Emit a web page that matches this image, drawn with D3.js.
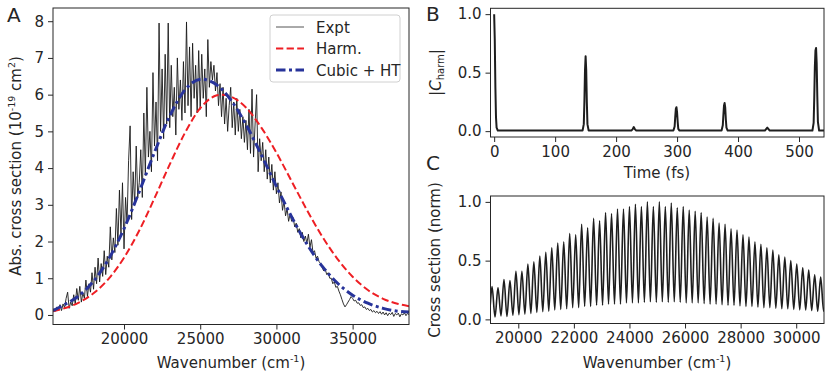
<!DOCTYPE html>
<html>
<head>
<meta charset="utf-8">
<script src="https://cdn.jsdelivr.net/npm/d3@7"></script>
<style>
body { margin: 0; background: #fff; }
svg text { font-family: "DejaVu Sans", sans-serif; fill: #262626; }
</style>
</head>
<body>
<div id="my_dataviz"></div>
<script>
var exptWave = [
  15400,15500,15600,15700,15800,15900,
  16000,16100,16200,16300,16400,16500,16600,16700,16800,16900,
  17000,17100,17200,17300,17400,17500,17600,17700,17800,17900,18000,18100,18200,18300,18400,18500,18600,18700,18800,18900,
  19000,19100,19200,19300,19400,19500,19600,19700,19800,19900,20000,20100,20200,20300,20400,20500,20600,20700,20800,20900,
  21000,21100,21200,21300,21400,21500,21600,21700,21800,21900,22000,22100,22200,22300,22400,22500,22600,22700,22800,22900,
  23000,23100,23200,23300,23400,23500,23600,23700,23800,23900,24000,24100,24200,24300,24400,24500,24600,24700,24800,24900,
  25000,25100,25200,25300,25400,25500,25600,25700,25800,25900,26000,26100,26200,26300,26400,26500,26600,26700,26800,26900,
  27000,27100,27200,27300,27400,27500,27600,27700,27800,27900,28000,28100,28200,28300,28400,28500,28600,28700,28800,28900,
  29000,29100,29200,29300,29400,29500,29600,29700,29800,29900,30000,30100,30200,30300,30400,30500,30600,30700,30800,30900,
  31000,31100,31200,31300,31400,31500,31600,31700,31800,31900,32000,32100,32200,32300,32400,32500,32600,32700,32800,32900,
  33000,33100,33200,33300,33400,33500,33600,33700,33800,33900,34000,34100,34200,34300,34400,34500,34600,34700,34800,34900,
  35000,35100,35200,35300,35400,35500,35600,35700,35800,35900,36000,36100,36200,36300,36400,36500,36600,36700,36800,36900,
  37000,37100,37200,37300,37400,37500,37600,37700,37800,37900,38000,38100,38200,38300,38400,38500,38600,38700];
var exptVal = [
  0.18,0.10,0.22,0.15,0.28,0.12,
  0.30,0.20,0.45,0.62,0.18,0.35,0.25,0.55,0.30,0.72,
  0.40,0.78,0.35,0.60,0.45,0.95,0.50,0.85,0.62,1.15,0.70,1.30,0.85,1.55,0.90,1.40,1.05,1.75,1.10,1.60,
  1.30,2.40,1.50,2.10,1.70,2.90,1.90,3.40,2.20,3.60,1.80,3.20,2.50,4.20,5.15,2.60,3.90,3.00,4.60,3.20,
  3.60,4.50,3.20,5.50,3.80,6.20,4.30,5.00,3.90,6.60,4.60,5.80,4.20,7.95,5.00,6.70,4.80,7.10,5.20,7.95,
  5.10,6.80,5.40,6.20,4.90,7.00,5.60,6.40,5.30,6.90,5.50,7.98,5.70,7.30,5.40,7.40,5.90,6.80,5.50,7.20,
  5.60,7.10,5.90,6.70,5.40,7.50,6.20,6.90,6.40,6.80,6.10,6.60,5.70,6.30,5.40,6.20,5.20,5.90,5.00,5.70,
  6.20,5.10,5.80,4.90,5.90,5.00,5.60,4.80,5.40,4.70,5.30,4.50,5.60,4.40,6.15,4.30,5.20,6.00,3.90,4.80,
  4.20,4.70,3.90,4.50,3.70,4.30,3.60,4.10,3.40,3.90,3.30,3.60,3.05,3.35,2.85,3.10,2.70,2.90,2.55,2.75,
  2.55,2.65,2.40,2.50,2.25,2.35,2.10,2.25,2.00,2.15,1.95,2.20,1.85,2.05,1.70,1.75,1.55,1.60,1.45,1.40,
  1.30,1.20,1.25,1.10,1.15,1.00,1.00,0.85,0.90,0.75,0.78,0.65,0.55,0.42,0.30,0.22,0.28,0.35,0.42,0.50,
  0.45,0.38,0.40,0.32,0.33,0.26,0.28,0.20,0.22,0.15,0.18,0.12,0.15,0.08,0.12,0.06,0.10,0.04,0.09,0.02,
  0.08,0.00,0.06,-0.02,0.05,0.01,0.07,-0.04,0.04,0.00,0.05,-0.05,0.03,0.00,0.06,-0.02,0.04,0.01];

// harmonic model (red dashed)
var harmWave = [15340,16000,17000,18000,19000,20000,21000,22000,23000,24000,25000,26000,26400,27000,28000,29000,30000,31000,32000,33000,34000,35000,36000,37000,38000,38700];
var harmVal  = [0.10,0.17,0.33,0.59,0.99,1.56,2.30,3.18,4.10,4.96,5.63,5.97,6.00,5.95,5.65,5.11,4.42,3.64,2.86,2.14,1.53,1.04,0.68,0.44,0.30,0.24];

// cubic + HT model (blue dash-dot)
var cubicWave = [15340,16000,17000,18000,19000,20000,21000,22000,23000,24000,25100,26000,27000,28000,29000,30000,31000,32000,33000,34000,35000,36000,37000,38000,38700];
var cubicVal  = [0.12,0.26,0.51,0.92,1.53,2.35,3.36,4.43,5.42,6.13,6.42,6.29,5.86,5.19,4.37,3.50,2.67,1.93,1.33,0.87,0.54,0.32,0.18,0.10,0.08];

var aXTicks = [20000, 25000, 30000, 35000];
var aYTicks = [0, 1, 2, 3, 4, 5, 6, 7, 8];
var legendLabels = ["Expt", "Harm.", "Cubic + HT"];

// ---- panel B : |C_harm| autocorrelation
var bTime = [0,1,2,3,4,6,
  145,147,148,149,150,151,152,153,155,
  225,227,229,231,233,
  294,296,297,298,299,300,301,302,304,
  373,375,376,377,378,379,380,381,383,
  444,446,448,450,452,
  522,524,525,526,527,528,529,530,531,533,541];
var bVal = [1.0,0.78,0.38,0.12,0.03,0.005,
  0.005,0.06,0.25,0.52,0.64,0.52,0.25,0.06,0.005,
  0.005,0.015,0.035,0.015,0.005,
  0.005,0.04,0.12,0.19,0.205,0.16,0.08,0.02,0.005,
  0.005,0.05,0.14,0.22,0.24,0.20,0.10,0.03,0.005,
  0.005,0.018,0.03,0.018,0.005,
  0.005,0.07,0.28,0.55,0.69,0.71,0.58,0.30,0.08,0.005,0.005];
var bXTicks = [0, 100, 200, 300, 400, 500];
var bYTicks = [0, 0.5, 1.0];

// ---- panel C : computed spectrum, peak tops and trough bottoms
var cPeakWave = [18840,19055,19270,19485,19700,19915,20130,20345,20560,20775,20990,21205,21420,21635,21850,22065,22280,22495,22710,22925,
  23140,23355,23570,23785,24000,24215,24430,24645,24860,25075,25290,25505,25720,25935,26150,26365,26580,26795,27010,27225,
  27440,27655,27870,28085,28300,28515,28730,28945,29160,29375,29590,29805,30020,30235,30450,30665,30880,31095];
var cPeakVal = [0.27,0.28,0.27,0.34,0.33,0.41,0.41,0.47,0.49,0.54,0.57,0.61,0.65,0.66,0.73,0.72,0.81,0.78,0.86,0.84,
  0.91,0.90,0.94,0.94,0.96,0.98,0.96,1.00,0.96,1.00,0.96,0.99,0.95,0.96,0.93,0.92,0.91,0.87,0.86,0.82,
  0.81,0.77,0.76,0.72,0.70,0.66,0.64,0.61,0.59,0.55,0.53,0.50,0.47,0.44,0.42,0.38,0.36,0.34];
var cTroughWave = [18947,19162,19377,19592,19807,20022,20237,20452,20667,20882,21097,21312,21527,21742,21957,22172,22387,22602,22817,23032,
  23247,23462,23677,23892,24107,24322,24537,24752,24967,25182,25397,25612,25827,26042,26257,26472,26687,26902,27117,27332,
  27547,27762,27977,28192,28407,28622,28837,29052,29267,29482,29697,29912,30127,30342,30557,30772,30987];
var cTroughVal = [0.03,0.02,0.03,0.025,0.035,0.04,0.045,0.05,0.06,0.065,0.07,0.08,0.085,0.09,0.10,0.10,0.11,0.11,0.12,0.12,
  0.13,0.13,0.13,0.14,0.14,0.14,0.145,0.15,0.145,0.15,0.145,0.15,0.145,0.14,0.14,0.14,0.135,0.13,0.13,0.125,
  0.12,0.12,0.115,0.11,0.11,0.105,0.10,0.10,0.095,0.09,0.09,0.085,0.08,0.08,0.075,0.07,0.07];
var cXTicks = [20000, 22000, 24000, 26000, 28000, 30000];
var cYTicks = [0, 0.5, 1.0];

var W = 830, H = 377;
var FS = "15px";
var svg = d3.select("#my_dataviz").append("svg")
    .attr("width", W).attr("height", H);

// draws the ticks of one panel + its clip rect, returns the scales
function makePanel(id, box, xDom, yDom, xTicks, yTicks, yFmt) {
    var x = d3.scaleLinear().domain(xDom).range([box.left, box.right]);
    var y = d3.scaleLinear().domain(yDom).range([box.bottom, box.top]);

    svg.append("clipPath").attr("id", "clip" + id)
      .append("rect")
        .attr("x", box.left).attr("y", box.top)
        .attr("width", box.right - box.left).attr("height", box.bottom - box.top);

    var gx = svg.append("g")
        .attr("transform", "translate(0," + box.bottom + ")")
        .call(d3.axisBottom(x).tickValues(xTicks).tickSize(5).tickPadding(4).tickFormat(d3.format("d")));
    var gy = svg.append("g")
        .attr("transform", "translate(" + box.left + ",0)")
        .call(d3.axisLeft(y).tickValues(yTicks).tickSize(5).tickPadding(4).tickFormat(yFmt));
    [gx, gy].forEach(function(g) {
        g.select(".domain").remove();
        g.selectAll("line").attr("stroke", "#262626").attr("stroke-width", 1);
        g.selectAll("text").attr("font-size", FS).attr("fill", "#262626")
          .style("font-family", "DejaVu Sans, sans-serif");
    });
    return {x: x, y: y, box: box, id: id};
}

function frame(p) {
    svg.append("rect")
        .attr("x", p.box.left).attr("y", p.box.top)
        .attr("width", p.box.right - p.box.left).attr("height", p.box.bottom - p.box.top)
        .attr("fill", "none").attr("stroke", "#262626").attr("stroke-width", 1);
}

function drawLine(p, xs, ys, color, width, dash, curve) {
    var pts = xs.map(function(d, i) { return [d, ys[i]]; });
    var line = d3.line()
        .x(function(d) { return p.x(d[0]); })
        .y(function(d) { return p.y(d[1]); })
        .curve(curve || d3.curveLinear);
    svg.append("path")
        .datum(pts)
        .attr("clip-path", "url(#clip" + p.id + ")")
        .attr("d", line)
        .attr("fill", "none")
        .attr("stroke", color)
        .attr("stroke-width", width)
        .attr("stroke-dasharray", dash || null)
        .attr("stroke-linejoin", "round");
}

// ---------------- panel A
var pA = makePanel("A", {left: 53, right: 409, top: 8, bottom: 324.5},
    [15340, 38700], [-0.26, 8.36], aXTicks, aYTicks, d3.format("d"));
var RED = "#ee1f24", BLUE = "#27339a";
drawLine(pA, exptWave, exptVal, "#1a1a1a", 0.9);
drawLine(pA, harmWave, harmVal, RED, 2, "7.3,3.3", d3.curveMonotoneX);
drawLine(pA, cubicWave, cubicVal, BLUE, 3, "9.5,3.5,3,3.5", d3.curveMonotoneX);
frame(pA);

// legend
var leg = svg.append("g");
leg.append("rect")
    .attr("x", 270).attr("y", 15).attr("width", 130).attr("height", 67).attr("rx", 3)
    .attr("fill", "#fff").attr("fill-opacity", 0.8).attr("stroke", "#d0d0d0");
var legStyle = [{c: "#555", w: 1, d: null}, {c: RED, w: 2, d: "7.3,3.3"}, {c: BLUE, w: 3, d: "9.5,3.5,3,3.5"}];
legendLabels.forEach(function(t, i) {
    var yy = 27 + i * 21.5;
    leg.append("line").attr("x1", 276).attr("x2", 304).attr("y1", yy).attr("y2", yy)
        .attr("stroke", legStyle[i].c).attr("stroke-width", legStyle[i].w)
        .attr("stroke-dasharray", legStyle[i].d);
    leg.append("text").attr("x", 316).attr("y", yy + 5.5).attr("font-size", FS).text(t);
});

svg.append("text").attr("x", 231).attr("y", 368).attr("text-anchor", "middle").attr("font-size", FS)
    .html('Wavenumber (cm<tspan dy="-6" font-size="9.5px">-1</tspan><tspan dy="6">)</tspan>');
svg.append("text").attr("transform", "translate(21,166) rotate(-90)").attr("text-anchor", "middle").attr("font-size", FS)
    .html('Abs. cross section (10<tspan dy="-6" font-size="9.5px">-19</tspan><tspan dy="6"> cm</tspan><tspan dy="-6" font-size="9.5px">2</tspan><tspan dy="6">)</tspan>');

// ---------------- panel B
var pB = makePanel("B", {left: 490.5, right: 824, top: 8.3, bottom: 137},
    [-6, 541], [-0.05, 1.05], bXTicks, bYTicks, d3.format(".1f"));
drawLine(pB, bTime, bVal, "#1e1e1e", 2);
frame(pB);
svg.append("text").attr("x", 657).attr("y", 178).attr("text-anchor", "middle").attr("font-size", FS).text("Time (fs)");
svg.append("text").attr("transform", "translate(441,72.5) rotate(-90)").attr("text-anchor", "middle").attr("font-size", FS)
    .html('|<tspan font-style="italic">C</tspan><tspan dy="3" font-size="10px">harm</tspan><tspan dy="-3">|</tspan>');

// ---------------- panel C
var pC = makePanel("C", {left: 490.5, right: 824, top: 196, bottom: 323.5},
    [19000, 31000], [-0.035, 1.05], cXTicks, cYTicks, d3.format(".1f"));
var cWave = [], cVal = [];
cPeakWave.forEach(function(d, i) {
    cWave.push(d); cVal.push(cPeakVal[i]);
    if (i < cTroughWave.length) { cWave.push(cTroughWave[i]); cVal.push(cTroughVal[i]); }
});
drawLine(pC, cWave, cVal, "#1e1e1e", 1.6, null, d3.curveMonotoneX);
frame(pC);
svg.append("text").attr("x", 657).attr("y", 368).attr("text-anchor", "middle").attr("font-size", FS)
    .html('Wavenumber (cm<tspan dy="-6" font-size="9.5px">-1</tspan><tspan dy="6">)</tspan>');
svg.append("text").attr("transform", "translate(440,260) rotate(-90)").attr("text-anchor", "middle").attr("font-size", FS)
    .text("Cross section (norm)");

// panel letters
svg.append("text").attr("x", 7).attr("y", 22).attr("font-size", "20px").text("A");
svg.append("text").attr("x", 426).attr("y", 21).attr("font-size", "20px").text("B");
svg.append("text").attr("x", 426).attr("y", 170).attr("font-size", "20px").text("C");
</script>
</body>
</html>
